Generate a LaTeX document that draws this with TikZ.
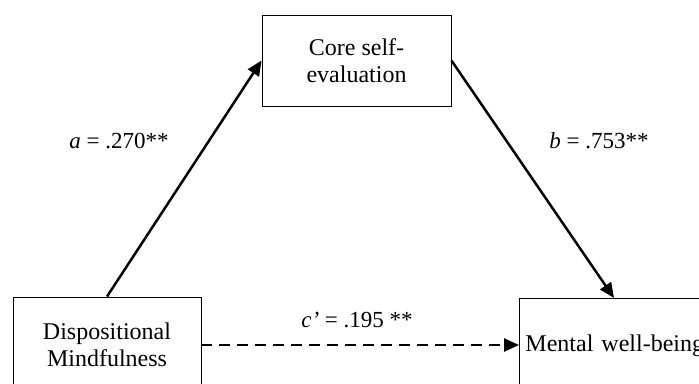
\documentclass[tikz,border=0pt]{standalone}
\usepackage{fontspec}
\setmainfont{Liberation Serif}
\usetikzlibrary{arrows.meta,calc}
\begin{document}
\begin{tikzpicture}[x=1pt,y=1pt,
  box/.style={draw,line width=0.9pt,inner sep=0pt,align=center,font=\fontsize{24}{27}\selectfont},
  lbl/.style={font=\fontsize{23}{27}\selectfont,inner sep=0pt},
  path/.style={line width=2.5pt,-{Triangle[length=15pt,width=13pt]}},
  dpath/.style={path,dash pattern=on 11pt off 7pt}]
\clip (0,0) rectangle (699,383);
\node[box,minimum width=189pt,minimum height=91pt] (core) at (356.5,322.5) {Core self-\\evaluation};
\node[box,minimum width=188pt,minimum height=96pt] (disp) at (107,38) {Dispositional\\Mindfulness};
\node[box,anchor=north west,inner xsep=6pt,text width=185pt,align=left,minimum height=94pt] (mental) at (519,85) {Mental well-being};
\coordinate (mtop) at ($(mental.north west)+(95,0)$);
\draw[path] (disp.north) -- (core.west);
\draw[path] (core.east) -- (mtop);
\draw[dpath] (disp.east) -- (disp.east -| mental.west);
\node[lbl] (la) at (119,242) {\textit{a} = .270**};
\node[lbl] (lb) at (599,242) {\textit{b} = .753**};
\node[lbl] (lc) at (357,63) {\textit{c’} = .195 **};
\end{tikzpicture}
\end{document}
